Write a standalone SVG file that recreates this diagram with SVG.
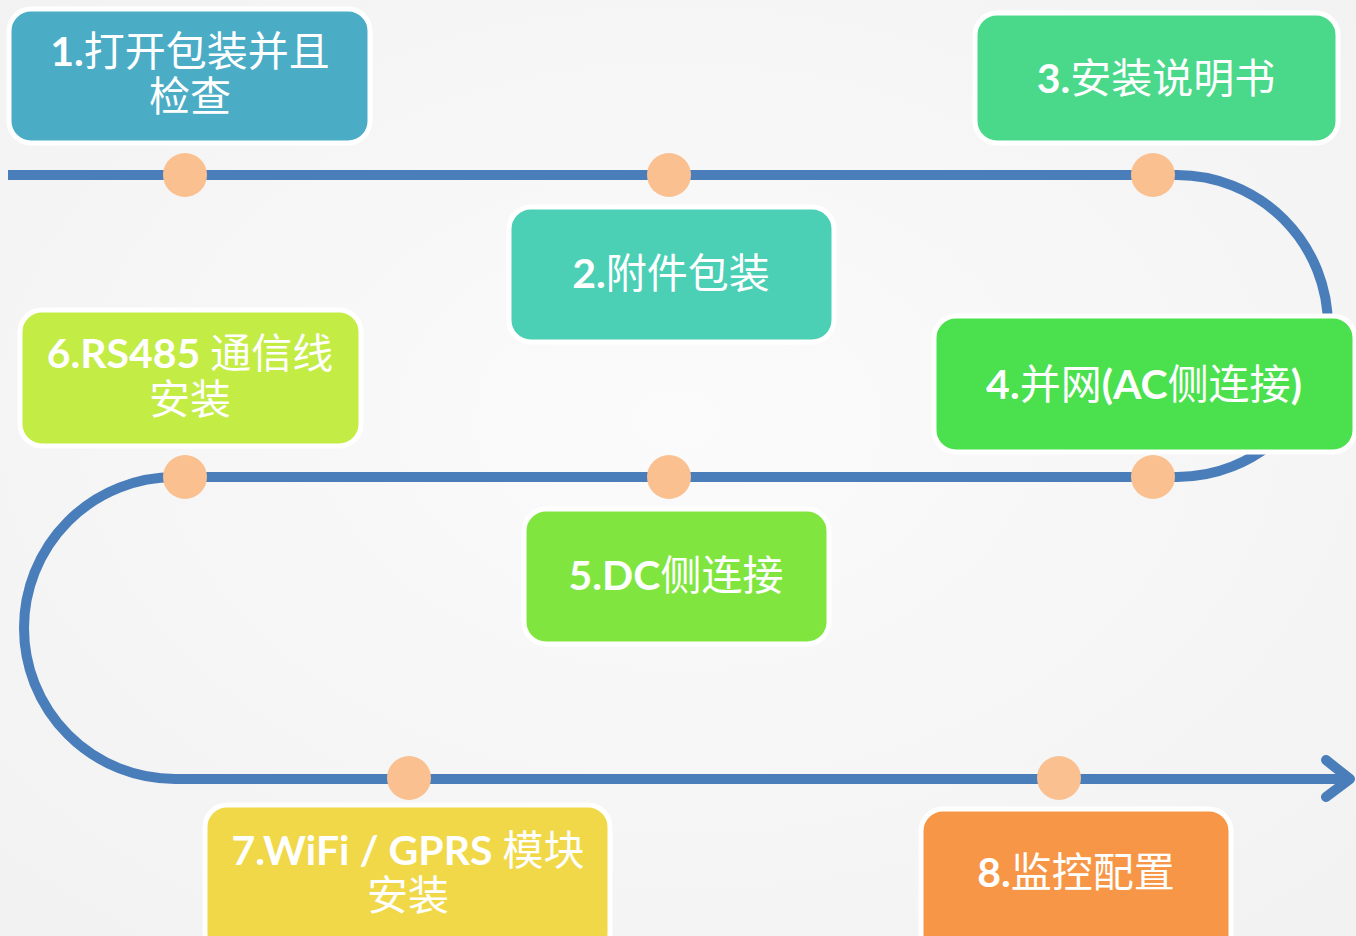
<svg xmlns="http://www.w3.org/2000/svg" width="1356" height="936" viewBox="0 0 1356 936">
<defs>
<radialGradient id="bg" cx="0.5" cy="0.45" r="0.7">
<stop offset="0" stop-color="#fbfbfb"/>
<stop offset="1" stop-color="#f2f2f2"/>
</radialGradient>
<style>
.ln{fill:none;stroke:#4a7ebb;stroke-width:10}
.dot{fill:#fac090}
.box{stroke:#ffffff;stroke-width:5}
.t{fill:#ffffff;font-family:"Noto Sans CJK SC","Lato",sans-serif;font-size:41px;text-anchor:middle}
.b{font-family:"Lato","Open Sans","Noto Sans CJK SC",sans-serif;font-weight:bold}
</style>
</defs>
<rect width="1356" height="936" fill="url(#bg)"/>
<g id="connectors">
<path class="ln" d="M8,175 H1177 A151,151 0 0 1 1177,477 H175 A151,151 0 0 0 175,779 H1348"/>
<path class="ln" d="M1326,760 L1350,779 L1326,797" stroke-linecap="round" stroke-linejoin="round"/>
<circle class="dot" cx="185" cy="175" r="22"/>
<circle class="dot" cx="669" cy="175" r="22"/>
<circle class="dot" cx="1153" cy="175" r="22"/>
<circle class="dot" cx="185" cy="477" r="22"/>
<circle class="dot" cx="669" cy="477" r="22"/>
<circle class="dot" cx="1153" cy="477" r="22"/>
<circle class="dot" cx="409" cy="778" r="22"/>
<circle class="dot" cx="1059" cy="778" r="22"/>
</g>
<g id="node1">
<rect class="box" x="9" y="9" width="361" height="134" rx="22" fill="#4bacc6"/>
<text class="t"><tspan x="190" y="66"><tspan class="b">1.</tspan>打开包装并且</tspan><tspan x="190" y="111">检查</tspan></text>
</g>
<g id="node2">
<rect class="box" x="509" y="207" width="325" height="135" rx="22" fill="#4bcfb5"/>
<text class="t" x="671" y="288"><tspan class="b">2.</tspan>附件包装</text>
</g>
<g id="node3">
<rect class="box" x="975" y="13" width="363" height="130" rx="22" fill="#4ad88a"/>
<text class="t" x="1156" y="93"><tspan class="b">3.</tspan>安装说明书</text>
</g>
<g id="node4">
<rect class="box" x="934" y="316" width="421" height="136" rx="22" fill="#4ae04e"/>
<text class="t" x="1144" y="399"><tspan class="b">4.</tspan>并网<tspan class="b">(AC</tspan>侧连接<tspan class="b">)</tspan></text>
</g>
<g id="node5">
<rect class="box" x="524" y="509" width="305" height="135" rx="22" fill="#80e53f"/>
<text class="t" x="676" y="590"><tspan class="b">5.DC</tspan>侧连接</text>
</g>
<g id="node6">
<rect class="box" x="20" y="310" width="341" height="136" rx="22" fill="#c3ec45"/>
<text class="t"><tspan x="190" y="368"><tspan class="b">6.RS485 </tspan>通信线</tspan><tspan x="190" y="414">安装</tspan></text>
</g>
<g id="node7">
<rect class="box" x="205" y="805" width="405" height="150" rx="22" fill="#f0d848"/>
<text class="t"><tspan x="408" y="865"><tspan class="b">7.WiFi / GPRS </tspan>模块</tspan><tspan x="408" y="910">安装</tspan></text>
</g>
<g id="node8">
<rect class="box" x="921" y="809" width="310" height="150" rx="22" fill="#f79646"/>
<text class="t" x="1076" y="887"><tspan class="b">8.</tspan>监控配置</text>
</g>
</svg>
